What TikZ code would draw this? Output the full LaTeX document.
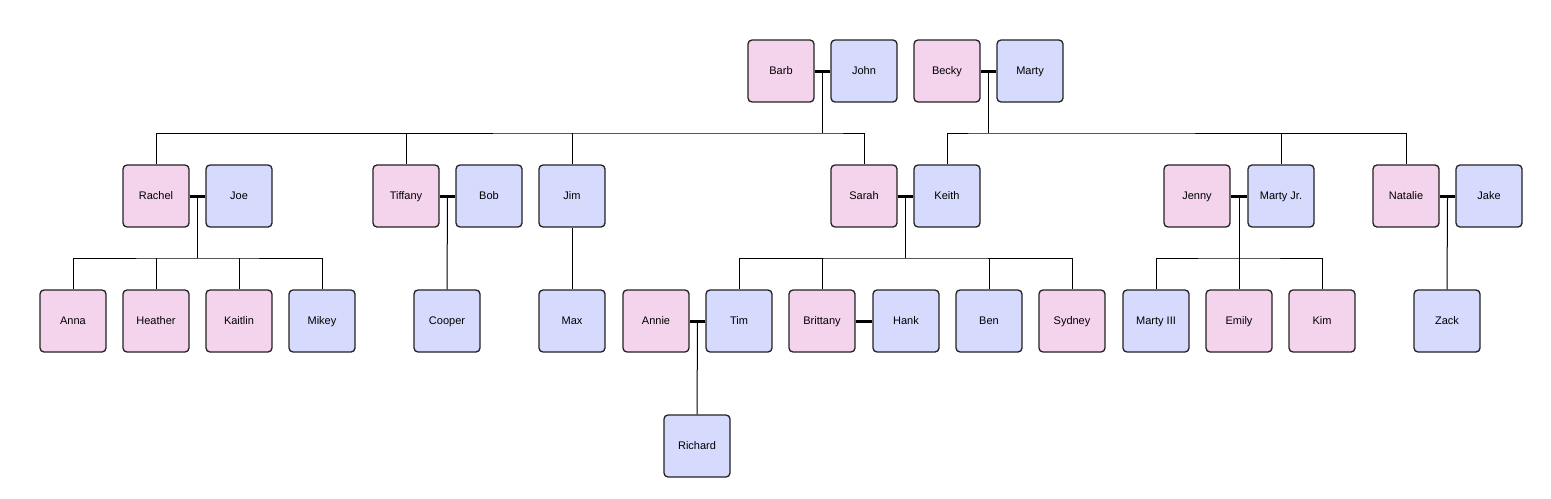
\documentclass[tikz,border=0pt]{standalone}
\usepackage{fontspec}
\setmainfont{Liberation Sans}
\usetikzlibrary{calc}
\definecolor{pinkf}{HTML}{F4D4EC}
\definecolor{bluef}{HTML}{D6DAFC}
\definecolor{edge}{HTML}{222222}
\begin{document}
\begin{tikzpicture}[x=0.5pt,y=-0.5pt,
  person/.style={draw=edge,line width=0.65pt,rounded corners=2pt,minimum width=33pt,minimum height=31pt,inner sep=0pt,text height=4pt,text depth=0.4pt,font=\fontsize{5.5}{6}\selectfont},
  female/.style={person,fill=pinkf},
  male/.style={person,fill=bluef},
  marriage/.style={draw=black,line width=1.5pt},
  link/.style={draw=black,line width=0.5pt}]
\useasboundingbox (0,0) rectangle (1551,498);
% generation 1
\node[female] (barb) at (781,71) {Barb};
\node[male] (john) at (864,71) {John};
\node[female] (becky) at (947,71) {Becky};
\node[male] (marty) at (1030,71) {Marty};
% generation 2
\node[female] (rachel) at (156,196) {Rachel};
\node[male] (joe) at (239,196) {Joe};
\node[female] (tiffany) at (406,196) {Tiffany};
\node[male] (bob) at (489,196) {Bob};
\node[male] (jim) at (572,196) {Jim};
\node[female] (sarah) at (864,196) {Sarah};
\node[male] (keith) at (947,196) {Keith};
\node[female] (jenny) at (1197,196) {Jenny};
\node[male] (martyjr) at (1281,196) {Marty Jr.};
\node[female] (natalie) at (1406,196) {Natalie};
\node[male] (jake) at (1489,196) {Jake};
% generation 3
\node[female] (anna) at (73,321) {Anna};
\node[female] (heather) at (156,321) {Heather};
\node[female] (kaitlin) at (239,321) {Kaitlin};
\node[male] (mikey) at (322,321) {Mikey};
\node[male] (cooper) at (447,321) {Cooper};
\node[male] (max) at (572,321) {Max};
\node[female] (annie) at (656,321) {Annie};
\node[male] (tim) at (739,321) {Tim};
\node[female] (brittany) at (822,321) {Brittany};
\node[male] (hank) at (906,321) {Hank};
\node[male] (ben) at (989,321) {Ben};
\node[female] (sydney) at (1072,321) {Sydney};
\node[male] (martyiii) at (1156,321) {Marty III};
\node[female] (emily) at (1239,321) {Emily};
\node[female] (kim) at (1322,321) {Kim};
\node[male] (zack) at (1447,321) {Zack};
% generation 4
\node[male] (richard) at (697,446) {Richard};
% junction points
\coordinate (bj) at ($(barb.east)!0.5!(john.west)$);
\coordinate (bm) at ($(becky.east)!0.5!(marty.west)$);
\coordinate (rj) at ($(rachel.east)!0.5!(joe.west)$);
\coordinate (tb) at ($(tiffany.east)!0.5!(bob.west)$);
\coordinate (sk) at ($(sarah.east)!0.5!(keith.west)$);
\coordinate (jm) at ($(jenny.east)!0.5!(martyjr.west)$);
\coordinate (nj) at ($(natalie.east)!0.5!(jake.west)$);
\coordinate (at) at ($(annie.east)!0.5!(tim.west)$);
% bus points
\coordinate (bjb) at ($(bj)+(0,62)$);
\coordinate (bmb) at ($(bm)+(0,62)$);
\coordinate (rjb) at ($(rj)+(0,62)$);
\coordinate (skb) at ($(sk)+(0,62)$);
\coordinate (jmb) at ($(jm)+(0,62)$);
% descent lines
\draw[link] (bj) -- (bjb) (rachel.north) |- (bjb) -| (sarah.north)
  (tiffany.north) -- (tiffany.north |- bjb) (jim.north) -- (jim.north |- bjb);
\draw[link] (bm) -- (bmb) (keith.north) |- (bmb) -| (natalie.north)
  (martyjr.north) -- (martyjr.north |- bmb);
\draw[link] (rj) -- (rjb) (anna.north) |- (rjb) -| (mikey.north)
  (heather.north) -- (heather.north |- rjb) (kaitlin.north) -- (kaitlin.north |- rjb);
\draw[link] (tb) -- (cooper.north);
\draw[link] (jim.south) -- (max.north);
\draw[link] (sk) -- (skb) (tim.north) |- (skb) -| (sydney.north)
  (brittany.north) -- (brittany.north |- skb) (ben.north) -- (ben.north |- skb);
\draw[link] (jm) -- (jmb) (martyiii.north) |- (jmb) -| (kim.north)
  (emily.north) -- (emily.north |- jmb);
\draw[link] (nj) -- (zack.north);
\draw[link] (at) -- (richard.north);
% marriages
\draw[marriage] (barb.east) -- (john.west);
\draw[marriage] (becky.east) -- (marty.west);
\draw[marriage] (rachel.east) -- (joe.west);
\draw[marriage] (tiffany.east) -- (bob.west);
\draw[marriage] (sarah.east) -- (keith.west);
\draw[marriage] (jenny.east) -- (martyjr.west);
\draw[marriage] (natalie.east) -- (jake.west);
\draw[marriage] (annie.east) -- (tim.west);
\draw[marriage] (brittany.east) -- (hank.west);
\end{tikzpicture}
\end{document}
